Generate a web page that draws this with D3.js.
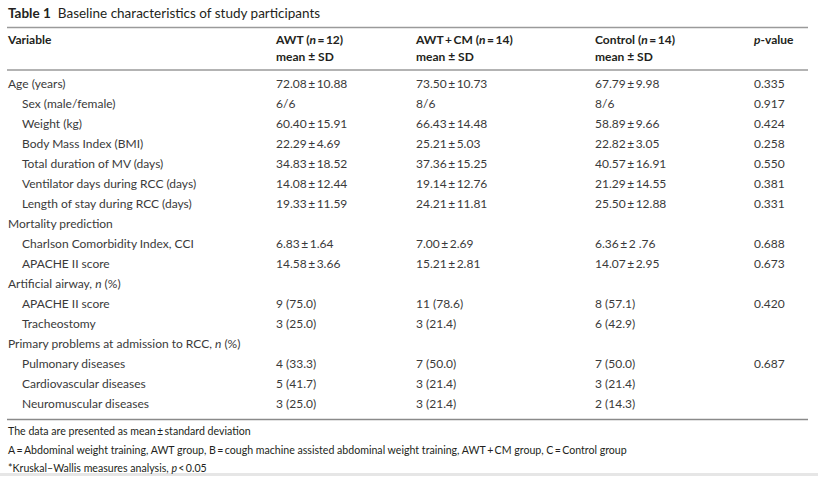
<!DOCTYPE html>
<html><head><meta charset="utf-8">
<script src="https://cdn.jsdelivr.net/npm/d3@7"></script>
<style>
html,body{margin:0;padding:0;background:#fff;}
svg text{font-family:Lato,"Open Sans",sans-serif;}
</style></head>
<body><svg id="c" width="825" height="481"></svg>
<script>
const rowLabels = ["Age (years)","Sex (male/female)","Weight (kg)","Body Mass Index (BMI)","Total duration of MV (days)","Ventilator days during RCC (days)","Length of stay during RCC (days)","Mortality prediction","Charlson Comorbidity Index, CCI","APACHE II score","Artificial airway, |n| (%)","APACHE II score","Tracheostomy","Primary problems at admission to RCC, |n| (%)","Pulmonary diseases","Cardiovascular diseases","Neuromuscular diseases"];
const rowIndent = [0,1,1,1,1,1,1,0,1,1,0,1,1,0,1,1,1];
const awt = ["72.08 ± 10.88","6/6","60.40 ± 15.91","22.29 ± 4.69","34.83 ± 18.52","14.08 ± 12.44","19.33 ± 11.59","","6.83 ± 1.64","14.58 ± 3.66","","9 (75.0)","3 (25.0)","","4 (33.3)","5 (41.7)","3 (25.0)"];
const awtcm = ["73.50 ± 10.73","8/6","66.43 ± 14.48","25.21 ± 5.03","37.36 ± 15.25","19.14 ± 12.76","24.21 ± 11.81","","7.00 ± 2.69","15.21 ± 2.81","","11 (78.6)","3 (21.4)","","7 (50.0)","3 (21.4)","3 (21.4)"];
const control = ["67.79 ± 9.98","8/6","58.89 ± 9.66","22.82 ± 3.05","40.57 ± 16.91","21.29 ± 14.55","25.50 ± 12.88","","6.36 ± 2 .76","14.07 ± 2.95","","8 (57.1)","6 (42.9)","","7 (50.0)","3 (21.4)","2 (14.3)"];
const pvalue = ["0.335","0.917","0.424","0.258","0.550","0.381","0.331","","0.688","0.673","","0.420","","","0.687","",""];
const columns = ["Variable","AWT","AWT+CM","Control","p"];
const headers1 = ["Variable","AWT (|n| = 12)","AWT + CM (|n| = 14)","Control (|n| = 14)","|p|-value"];
const headers2 = ["","mean ± SD","mean ± SD","mean ± SD",""];
const footnotes = ["The data are presented as mean ± standard deviation","A = Abdominal weight training, AWT group, B = cough machine assisted abdominal weight training, AWT + CM group, C = Control group","*Kruskal–Wallis measures analysis, |p| < 0.05"];

const svg = d3.select("#c");
const x = d3.scaleOrdinal().domain(columns).range([8,276,416,595,754]);
const y = d3.scaleLinear().domain([0,16]).range([84,404]);
const fmt = s => s.replace(/ ± /g,"\u2009±\u2009").replace(/ = /g,"\u2009=\u2009").replace(/ \+ /g,"\u2009+\u2009").replace(/ < /g,"\u2009<\u2009");
const fmtHead = s => s.replace(/ ± /g," ± ").replace(/ = /g,"\u2009=\u2009").replace(/ \+ /g,"\u2009+\u2009");

function rich(sel, str, f){
  const parts = (f||fmt)(str).split("|");
  parts.forEach((p,i)=>{ if(p.length) sel.append("tspan").attr("font-style", i%2? "italic":null).text(p); });
}

// title
const t = svg.append("text").attr("x",8).attr("y",18).attr("font-size",13.5).attr("fill","#231f20");
t.append("tspan").attr("font-weight","bold").text("Table 1");
t.append("tspan").attr("dx",7).text("Baseline characteristics of study participants");

// lines
svg.append("line").attr("x1",7).attr("x2",808).attr("y1",27.5).attr("y2",27.5).attr("stroke","#9a9a9a").attr("stroke-width",1.6);
svg.append("line").attr("x1",7).attr("x2",808).attr("y1",70).attr("y2",70).attr("stroke","#9a9a9a").attr("stroke-width",1.3);
svg.append("line").attr("x1",7).attr("x2",808).attr("y1",419.5).attr("y2",419.5).attr("stroke","#8a8a8a").attr("stroke-width",1.3);
svg.append("rect").attr("x",0).attr("width",818).attr("y",473).attr("height",3).attr("fill","#e6e6e6");

// headers
columns.forEach((c,i)=>{
  const h1 = svg.append("text").attr("x",x(c)).attr("y",44).attr("font-size",12).attr("font-weight","bold").attr("fill","#231f20");
  rich(h1, headers1[i], fmtHead);
  if(headers2[i]){
    const h2 = svg.append("text").attr("x",x(c)).attr("y",61).attr("font-size",12).attr("font-weight","bold").attr("fill","#231f20");
    rich(h2, headers2[i], fmtHead);
  }
});

// body
const cols = [rowLabels, awt, awtcm, control, pvalue];
rowLabels.forEach((lab,r)=>{
  cols.forEach((arr,ci)=>{
    const v = arr[r]; if(!v) return;
    const tx = svg.append("text")
      .attr("x", x(columns[ci]) + (ci===0 && rowIndent[r] ? 14 : 0))
      .attr("y", y(r)+4.2).attr("font-size",12).attr("fill","#3a3a3a");
    rich(tx, v);
  });
});

// footnotes
footnotes.forEach((f,i)=>{
  const tx = svg.append("text").attr("x",8).attr("y",435+ i*18.5).attr("font-size",10.6).attr("fill","#231f20");
  rich(tx, f);
});
</script></body></html>
